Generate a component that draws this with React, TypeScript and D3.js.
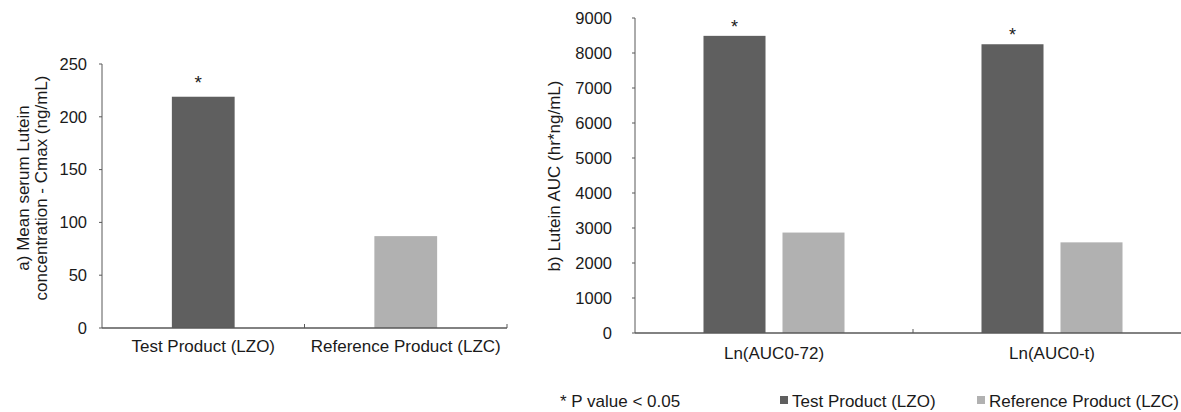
import React from 'react';
import * as d3 from 'd3';

// values
const cmaxCategories = ['Test Product (LZO)', 'Reference Product (LZC)'];
const cmaxValues = [219, 87];
const cmaxSignificant = [true, false];
const cmaxTicks = [0, 50, 100, 150, 200, 250];

const aucCategories = ['Ln(AUC0-72)', 'Ln(AUC0-t)'];
const aucTestValues = [8490, 8250];
const aucReferenceValues = [2870, 2590];
const aucTestSignificant = [true, true];
const aucTicks = [0, 1000, 2000, 3000, 4000, 5000, 6000, 7000, 8000, 9000];

const seriesNames = ['Test Product (LZO)', 'Reference Product (LZC)'];
const seriesColors = ['#5f5f5f', '#b1b1b1'];
const pNote = '* P value < 0.05';

const font = '"Liberation Sans", Arial, sans-serif';
const textColor = '#1a1a1a';
const axisColor = '#595959';

const App = () => {
	// a) left panel
	const yA = d3.scaleLinear().domain([0, 250]).range([328, 64]);
	const xA = d3.scaleBand().domain(cmaxCategories).range([102, 507]);
	const barA = xA.bandwidth() * 0.31;

	// b) right panel
	const yB = d3.scaleLinear().domain([0, 9000]).range([333, 18]);
	const xB = d3.scaleBand().domain(aucCategories).range([635, 1191]);
	const xInner = d3.scaleBand().domain(seriesNames).range([0, xB.bandwidth()])
		.paddingInner(0.215).paddingOuter(0.867);
	const aucSeries = [aucTestValues, aucReferenceValues];

	return (
		<svg width={1181} height={412} style={{position: 'absolute', left: 0, top: 0, background: '#fff'}}
			fontFamily={font} fill={textColor}>

			{/* left y axis */}
			<line x1={xA.range()[0]} x2={xA.range()[0]} y1={yA(250)} y2={yA(0)} stroke={axisColor} />
			{cmaxTicks.map(t => (
				<g key={t}>
					<line x1={99} x2={102} y1={yA(t)} y2={yA(t)} stroke={axisColor} />
					<text x={87} y={yA(t)} dy="0.35em" textAnchor="end" fontSize={16.5}>{t}</text>
				</g>
			))}
			<text transform={`translate(29, 188) rotate(-90)`} textAnchor="middle" fontSize={17}>a) Mean serum Lutein</text>
			<text transform={`translate(47, 188) rotate(-90)`} textAnchor="middle" fontSize={17}>concentration - Cmax (ng/mL)</text>

			{/* left bars */}
			{cmaxCategories.map((c, i) => {
				const cx = xA(c) + xA.bandwidth() / 2;
				return (
					<g key={c}>
						<rect x={cx - barA / 2} y={yA(cmaxValues[i])} width={barA} height={yA(0) - yA(cmaxValues[i])}
							fill={seriesColors[i]} />
						{cmaxSignificant[i] && <text x={cx - 5} y={yA(cmaxValues[i]) - 8} textAnchor="middle" fontSize={19}>*</text>}
						<text x={cx} y={352} textAnchor="middle" fontSize={17}>{c}</text>
					</g>
				);
			})}

			{/* left x axis */}
			<line x1={xA.range()[0]} x2={xA.range()[1]} y1={yA(0)} y2={yA(0)} stroke={axisColor} strokeWidth={1.5} />
			{cmaxCategories.map(c => (
				<line key={c} x1={xA(c) + xA.bandwidth()} x2={xA(c) + xA.bandwidth()} y1={yA(0) - 4} y2={yA(0)} stroke={axisColor} />
			))}

			{/* right y axis */}
			<line x1={xB.range()[0]} x2={xB.range()[0]} y1={yB(9000)} y2={yB(0)} stroke={axisColor} />
			{aucTicks.map(t => (
				<g key={t}>
					<line x1={632} x2={635} y1={yB(t)} y2={yB(t)} stroke={axisColor} />
					<text x={612} y={yB(t)} dy="0.35em" textAnchor="end" fontSize={16.5}>{t}</text>
				</g>
			))}
			<text transform={`translate(560, 176) rotate(-90)`} textAnchor="middle" fontSize={17}>b) Lutein AUC (hr*ng/mL)</text>

			{/* right bars */}
			{aucCategories.map((c, i) => (
				<g key={c} transform={`translate(${xB(c)}, 0)`}>
					{seriesNames.map((s, j) => (
						<rect key={s} x={xInner(s)} y={yB(aucSeries[j][i])} width={xInner.bandwidth()}
							height={yB(0) - yB(aucSeries[j][i])} fill={seriesColors[j]} />
					))}
					{aucTestSignificant[i] && (
						<text x={xInner(seriesNames[0]) + xInner.bandwidth() / 2} y={yB(aucTestValues[i]) - 3}
							textAnchor="middle" fontSize={18}>*</text>
					)}
					<text x={xB.bandwidth() / 2} y={359} textAnchor="middle" fontSize={17}>{c}</text>
				</g>
			))}

			{/* right x axis */}
			<line x1={xB.range()[0]} x2={xB.range()[1]} y1={yB(0)} y2={yB(0)} stroke={axisColor} strokeWidth={1.5} />
			{aucCategories.map(c => (
				<line key={c} x1={xB(c) + xB.bandwidth()} x2={xB(c) + xB.bandwidth()} y1={yB(0) - 4} y2={yB(0)} stroke={axisColor} />
			))}

			{/* legend */}
			<text x={560} y={407} fontSize={17}>{pNote}</text>
			{seriesNames.map((s, i) => {
				const lx = [780, 977][i];
				return (
					<g key={s}>
						<rect x={lx} y={396} width={8} height={8} fill={seriesColors[i]} />
						<text x={lx + 12} y={407} fontSize={17}>{s}</text>
					</g>
				);
			})}
		</svg>
	);
};

export default App;
